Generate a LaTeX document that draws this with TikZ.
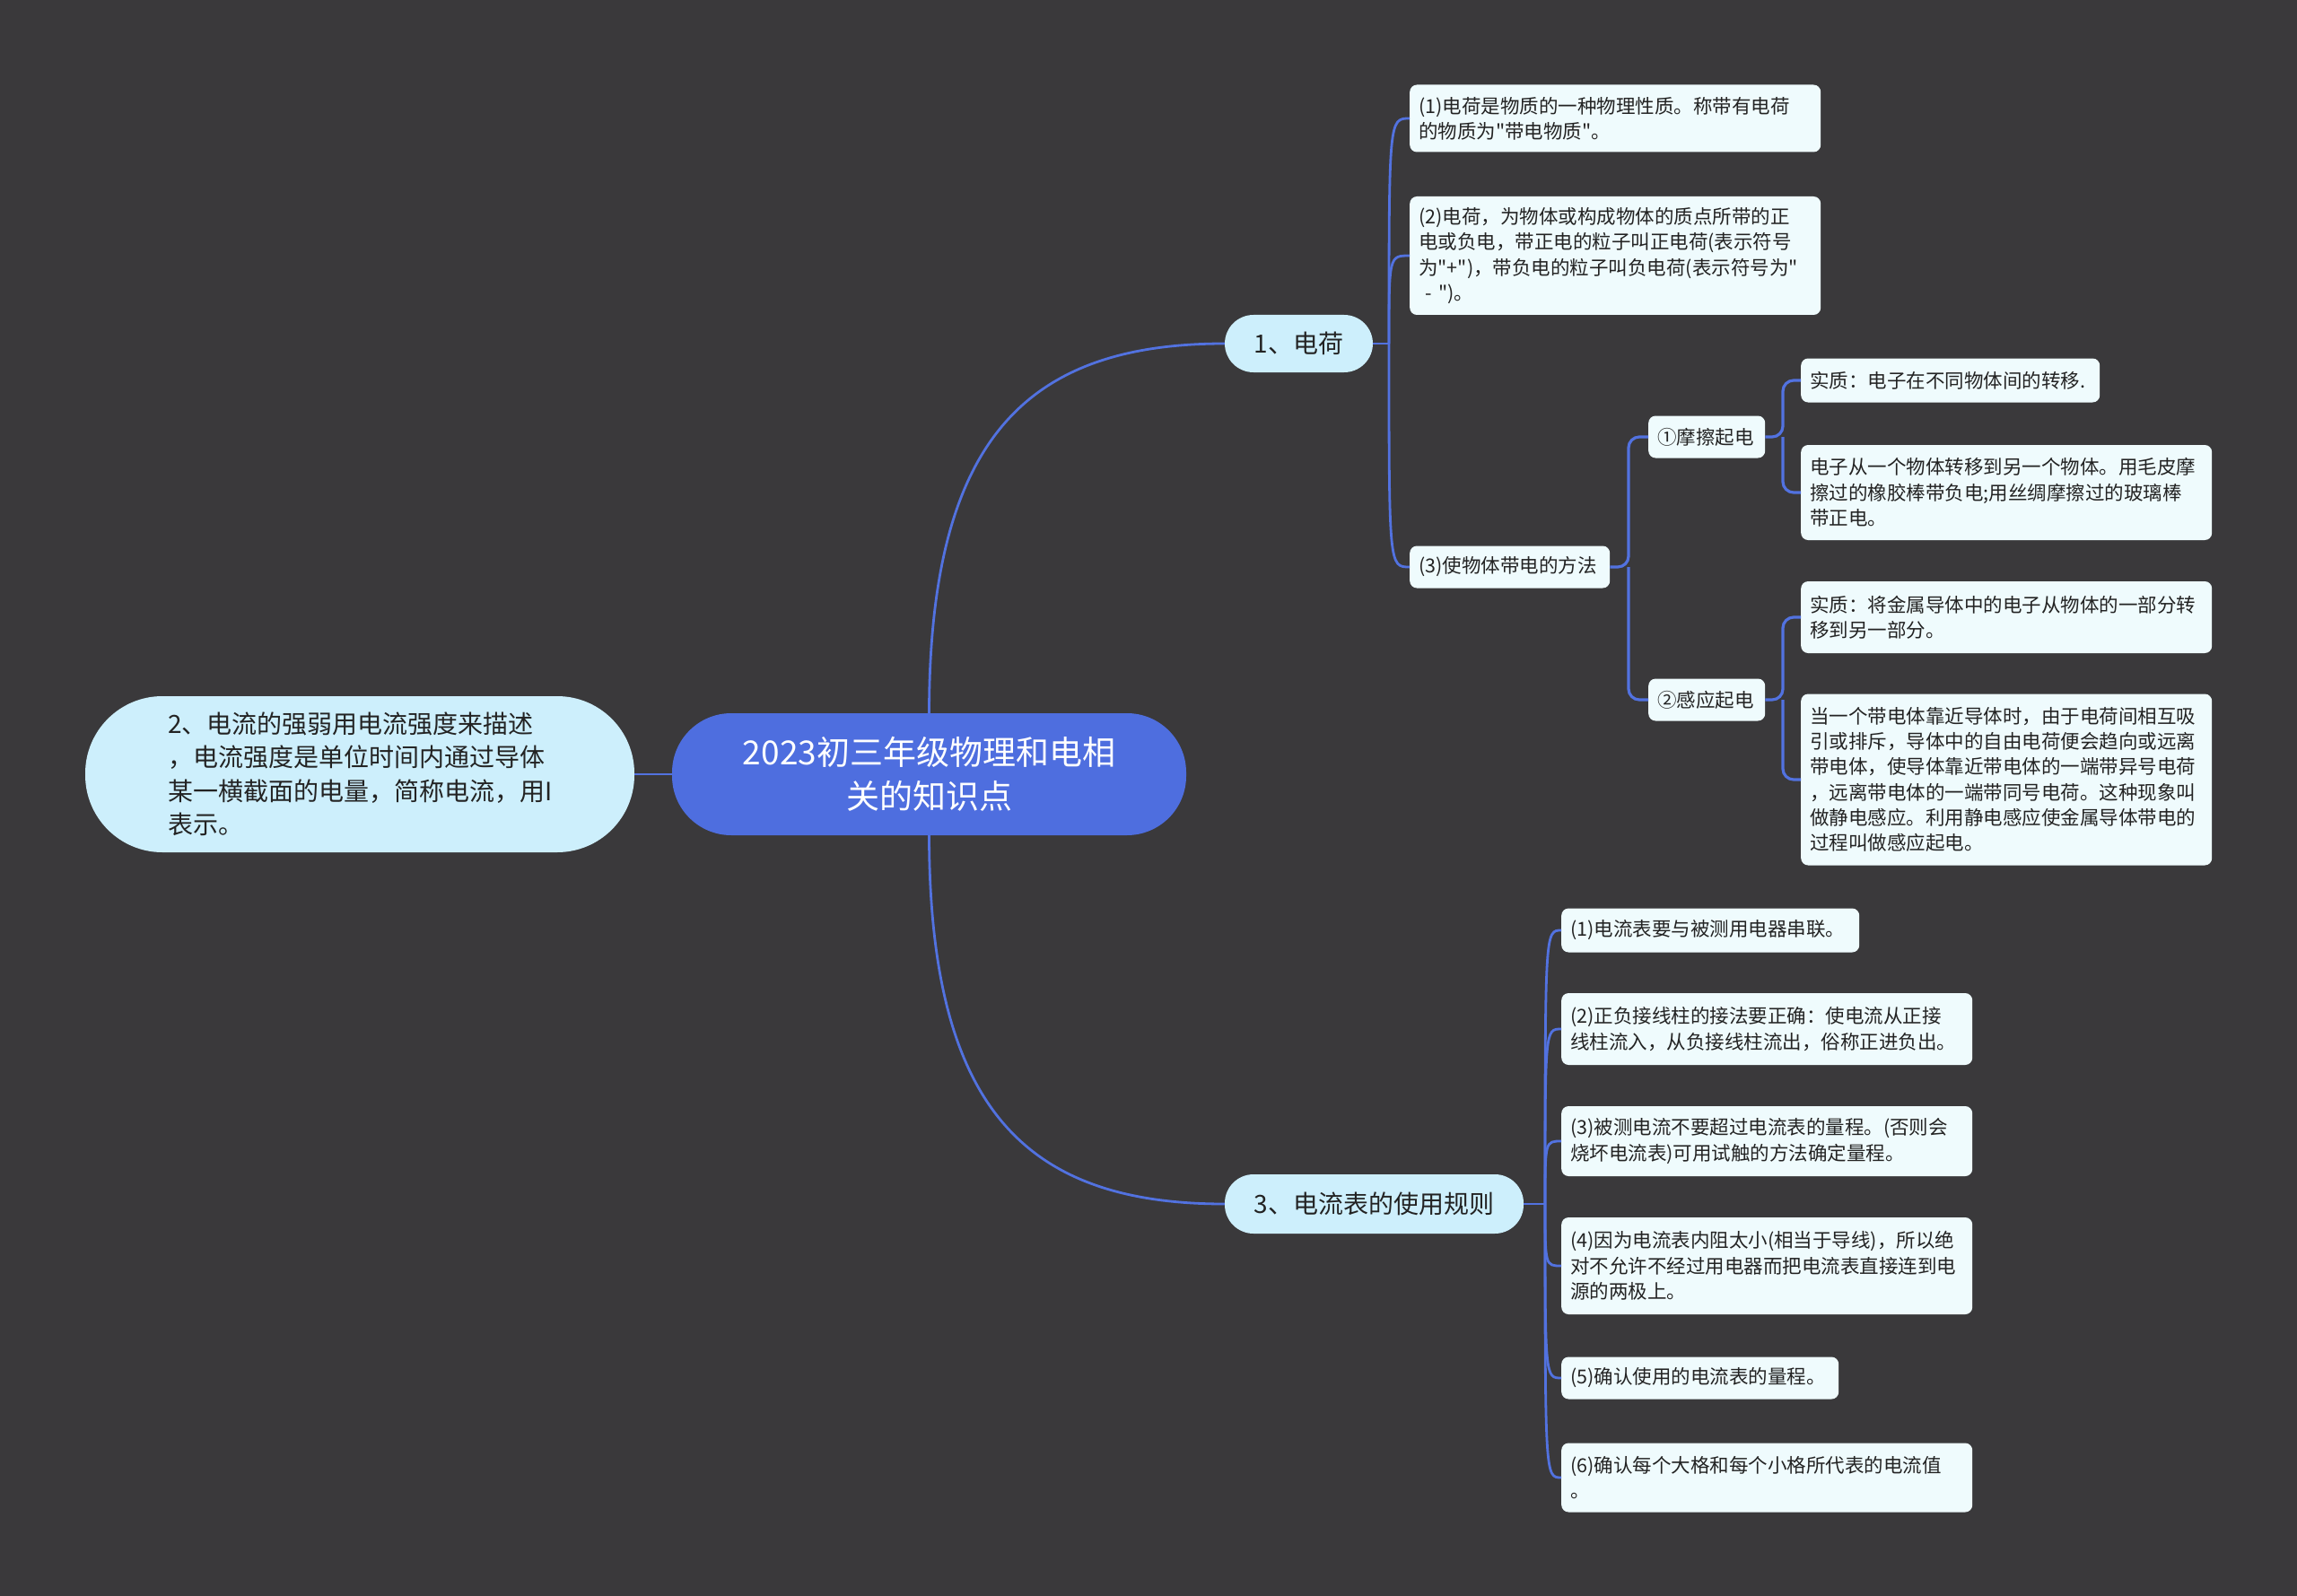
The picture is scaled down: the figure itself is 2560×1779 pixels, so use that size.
\documentclass[tikz,border=0pt]{standalone}
\usepackage{fontspec}
\setmainfont{Noto Sans CJK SC}[Ligatures=TeXOff]
\definecolor{bg}{HTML}{3A393B}
\definecolor{rootc}{HTML}{4E6EDF}
\definecolor{linec}{HTML}{5272E0}
\definecolor{branchc}{HTML}{CDEFFC}
\definecolor{leafc}{HTML}{EFFBFD}
\definecolor{txt}{HTML}{232323}
\begin{document}
\begin{tikzpicture}[x=1pt,y=-1pt,
  rootbox/.style={rectangle, rounded corners=66pt, fill=rootc, text=white, align=center,
    minimum width=573pt, minimum height=136pt, inner sep=0pt,
    font=\fontsize{37}{49}\selectfont},
  mainbox/.style={rectangle, fill=branchc, text=txt, inner sep=0pt,
    font=\fontsize{28}{37.5}\selectfont},
  leafbox/.style={rectangle, rounded corners=8pt, fill=leafc, text=txt, anchor=west,
    align=left, inner xsep=10pt, inner ysep=0pt,
    font=\fontsize{21.5}{28.3}\selectfont},
  conn/.style={draw=linec, line width=2.8pt},
  bconn/.style={draw=linec, line width=3.2pt, rounded corners=12pt}]
\fill[bg] (0,0) rectangle (2560,1779);
\useasboundingbox (0,0) rectangle (2560,1779);

% root and main branches
\node[rootbox] (root) at (1035.5,863) {2023初三年级物理和电相\\关的知识点};
\node[mainbox, rounded corners=86pt, minimum width=612pt, minimum height=174pt,
  align=left, text width=428pt] (left) at (401,863)
  {2、电流的强弱用电流强度来描述\\，电流强度是单位时间内通过导体\\某一横截面的电量，简称电流，用I\\表示。};
\node[mainbox, rounded corners=32pt, minimum width=165pt, minimum height=64pt] (b1) at (1447.5,383) {1、电荷};
\node[mainbox, rounded corners=32pt, minimum width=333pt, minimum height=66pt] (b3) at (1531.5,1342) {3、电流表的使用规则};

\draw[conn] (root.west) -- (left.east);
\draw[conn] (root.north) .. controls (1036,490) and (1143,383) .. (b1.west);
\draw[conn] (root.south) .. controls (1036,1236) and (1143,1342) .. (b3.west);

% branch 1 leaves
\node[leafbox, text width=438pt, minimum height=75pt] (l1) at (1571,132)
  {(1)电荷是物质的一种物理性质。称带有电荷\\的物质为"带电物质"。};
\node[leafbox, text width=438pt, minimum height=132pt] (l2) at (1571,285)
  {(2)电荷，为物体或构成物体的质点所带的正\\电或负电，带正电的粒子叫正电荷(表示符号\\为"+")，带负电的粒子叫负电荷(表示符号为"\\\ -\ ")。};
\node[leafbox, text width=203pt, minimum height=47pt] (l3) at (1571,632) {(3)使物体带电的方法};

\node[leafbox, text width=110pt, minimum height=47pt] (s1) at (1837,487) {①摩擦起电};
\node[leafbox, text width=110pt, minimum height=47pt] (s2) at (1837,780) {②感应起电};

\node[leafbox, text width=313pt, minimum height=49pt] (a1) at (2007,424) {实质：电子在不同物体间的转移.};
\node[leafbox, text width=438pt, minimum height=106pt] (a2) at (2007,549)
  {电子从一个物体转移到另一个物体。用毛皮摩\\擦过的橡胶棒带负电;用丝绸摩擦过的玻璃棒\\带正电。};
\node[leafbox, text width=438pt, minimum height=80pt] (bb1) at (2007,688)
  {实质：将金属导体中的电子从物体的一部分转\\移到另一部分。};
\node[leafbox, text width=438pt, minimum height=191pt] (bb2) at (2007,869)
  {当一个带电体靠近导体时，由于电荷间相互吸\\引或排斥，导体中的自由电荷便会趋向或远离\\带电体，使导体靠近带电体的一端带异号电荷\\，远离带电体的一端带同号电荷。这种现象叫\\做静电感应。利用静电感应使金属导体带电的\\过程叫做感应起电。};

% branch 3 leaves
\node[leafbox, text width=312pt, minimum height=49pt] (c1) at (1740,1037) {(1)电流表要与被测用电器串联。};
\node[leafbox, text width=438pt, minimum height=80pt] (c2) at (1740,1147)
  {(2)正负接线柱的接法要正确：使电流从正接\\线柱流入，从负接线柱流出，俗称正进负出。};
\node[leafbox, text width=438pt, minimum height=78pt] (c3) at (1740,1272)
  {(3)被测电流不要超过电流表的量程。(否则会\\烧坏电流表)可用试触的方法确定量程。};
\node[leafbox, text width=438pt, minimum height=108pt] (c4) at (1740,1411)
  {(4)因为电流表内阻太小(相当于导线)，所以绝\\对不允许不经过用电器而把电流表直接连到电\\源的两极上。};
\node[leafbox, text width=289pt, minimum height=47pt] (c5) at (1740,1536) {(5)确认使用的电流表的量程。};
\node[leafbox, text width=438pt, minimum height=77pt] (c6) at (1740,1647)
  {(6)确认每个大格和每个小格所代表的电流值\\。};

% junctions
\coordinate (j1) at (1548,383);
\coordinate (j3) at (1815,632);
\coordinate (js1) at (1987,487);
\coordinate (js2) at (1987,780);
\coordinate (jb3) at (1722,1342);

\draw[conn] (b1.east) -- (j1);
\foreach \n in {l1,l2,l3}{
  \draw[conn] (j1) .. controls (j1 |- \n.west) .. (\n.west);
}
\draw[conn] (b3.east) -- (jb3);
\foreach \n in {c1,c2,c3,c4,c5,c6}{
  \draw[conn] (jb3) .. controls (jb3 |- \n.west) .. (\n.west);
}
\draw[bconn] (l3.east) -- (j3) |- (s1.west);
\draw[bconn] (j3) |- (s2.west);
\draw[bconn] (s1.east) -- (js1) |- (a1.west);
\draw[bconn] (js1) |- (a2.west);
\draw[bconn] (s2.east) -- (js2) |- (bb1.west);
\draw[bconn] (js2) |- (bb2.west);
\end{tikzpicture}
\end{document}
